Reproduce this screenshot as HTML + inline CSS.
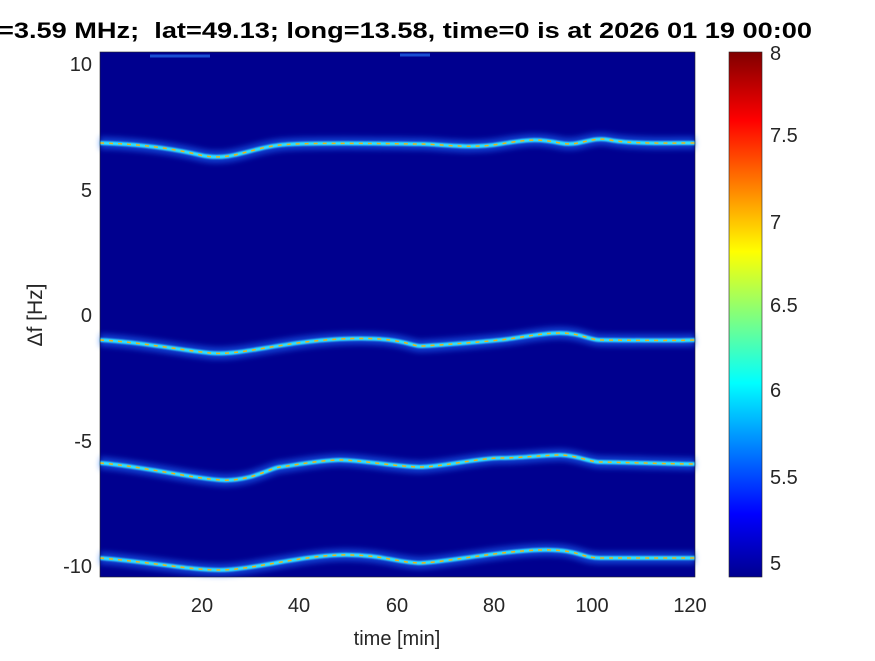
<!DOCTYPE html>
<html><head><style>
body{margin:0;background:#fff;width:875px;height:656px;overflow:hidden;font-family:"Liberation Sans",sans-serif}
</style></head><body>
<svg width="875" height="656" xmlns="http://www.w3.org/2000/svg" font-family="Liberation Sans, sans-serif">
<defs>
<linearGradient id="jet" x1="0" y1="1" x2="0" y2="0">
<stop offset="0" stop-color="#00008f"/>
<stop offset="0.12" stop-color="#0000ff"/>
<stop offset="0.37" stop-color="#00ffff"/>
<stop offset="0.62" stop-color="#ffff00"/>
<stop offset="0.87" stop-color="#ff0000"/>
<stop offset="1" stop-color="#800000"/>
</linearGradient>
<filter id="b1"><feGaussianBlur stdDeviation="3"/></filter>
<filter id="b2"><feGaussianBlur stdDeviation="0.8"/></filter>
</defs>
<rect x="100" y="52" width="595" height="525" fill="#00008f"/>
<g fill="none" stroke-linejoin="round">
<g stroke="#1a6cff" stroke-width="12" opacity="0.6" filter="url(#b1)">
<path d="M100 143 C140 144 170 148 200 155 S250 148 280 145 S400 144 420 144 S470 149 500 144 S540 139 560 143 S590 136 610 140 S670 143 695 143"/>
<path d="M100 340 C140 342 180 350 210 353 S280 342 340 339 S410 346 420 346 S480 342 500 340 S540 333 560 333 S590 340 600 340 S670 341 695 340"/>
<path d="M100 463 C140 466 190 478 220 480 S270 468 280 467 S320 460 340 460 S400 467 420 467 S480 458 500 458 S545 455 560 455 S590 462 600 462 S670 464 695 464"/>
<path d="M100 558 C150 562 190 570 220 570 S300 556 340 555 S400 563 420 563 S500 551 540 550 S580 558 600 558 S670 558 695 558"/>
</g>
<g stroke="#30e0ff" stroke-width="4" filter="url(#b2)">
<path d="M100 143 C140 144 170 148 200 155 S250 148 280 145 S400 144 420 144 S470 149 500 144 S540 139 560 143 S590 136 610 140 S670 143 695 143"/>
<path d="M100 340 C140 342 180 350 210 353 S280 342 340 339 S410 346 420 346 S480 342 500 340 S540 333 560 333 S590 340 600 340 S670 341 695 340"/>
<path d="M100 463 C140 466 190 478 220 480 S270 468 280 467 S320 460 340 460 S400 467 420 467 S480 458 500 458 S545 455 560 455 S590 462 600 462 S670 464 695 464"/>
<path d="M100 558 C150 562 190 570 220 570 S300 556 340 555 S400 563 420 563 S500 551 540 550 S580 558 600 558 S670 558 695 558"/>
</g>
<g stroke="#ffb000" stroke-width="1.5" stroke-dasharray="4 5" opacity="0.9">
<path d="M100 143 C140 144 170 148 200 155 S250 148 280 145 S400 144 420 144 S470 149 500 144 S540 139 560 143 S590 136 610 140 S670 143 695 143"/>
<path d="M100 340 C140 342 180 350 210 353 S280 342 340 339 S410 346 420 346 S480 342 500 340 S540 333 560 333 S590 340 600 340 S670 341 695 340"/>
<path d="M100 463 C140 466 190 478 220 480 S270 468 280 467 S320 460 340 460 S400 467 420 467 S480 458 500 458 S545 455 560 455 S590 462 600 462 S670 464 695 464"/>
<path d="M100 558 C150 562 190 570 220 570 S300 556 340 555 S400 563 420 563 S500 551 540 550 S580 558 600 558 S670 558 695 558"/>
</g>
<path d="M150 56 L210 56 M400 55 L430 55" stroke="#2a80ff" stroke-width="3" opacity="0.6"/>
</g>
<rect x="100" y="52" width="595" height="525" fill="none" stroke="#262626" stroke-width="0.6"/>
<g font-size="20" fill="#262626" text-anchor="end">
<text x="92" y="71">10</text><text x="92" y="197">5</text><text x="92" y="322">0</text><text x="92" y="448">-5</text><text x="92" y="573">-10</text>
</g>
<g font-size="20" fill="#262626" text-anchor="middle">
<text x="202" y="612">20</text><text x="299" y="612">40</text><text x="397" y="612">60</text><text x="494" y="612">80</text><text x="592" y="612">100</text><text x="690" y="612">120</text>
<text x="397" y="645">time [min]</text>
</g>
<text transform="translate(42 315) rotate(-90)" font-size="21" fill="#262626" text-anchor="middle">Δf [Hz]</text>
<text x="-2" y="38" font-size="22" font-weight="bold" fill="#000" textLength="814" lengthAdjust="spacingAndGlyphs" style="white-space:pre">=3.59 MHz;  lat=49.13; long=13.58, time=0 is at 2026 01 19 00:00</text>
<rect x="729" y="52" width="33" height="525" fill="url(#jet)" stroke="#262626" stroke-width="0.6"/>
<g font-size="20" fill="#262626">
<text x="770" y="60">8</text><text x="770" y="142">7.5</text><text x="770" y="229">7</text><text x="770" y="312">6.5</text><text x="770" y="397">6</text><text x="770" y="484">5.5</text><text x="770" y="570">5</text>
</g>
</svg>
</body></html>
